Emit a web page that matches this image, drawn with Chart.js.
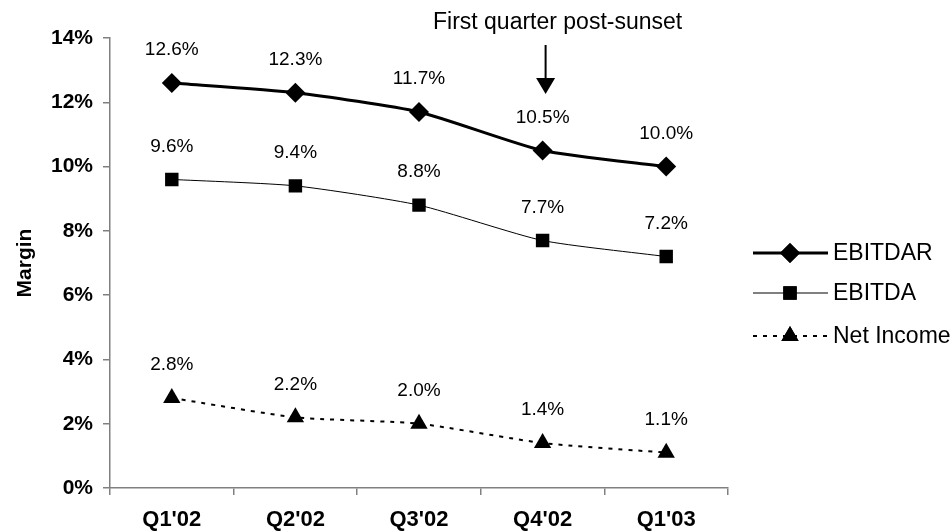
<!DOCTYPE html>
<html>
<head>
<meta charset="utf-8">
<script src="https://cdn.jsdelivr.net/npm/chart.js@4/dist/chart.umd.min.js"></script>
<style>
  html, body { margin: 0; padding: 0; background: #fff; }
  #wrap { width: 952px; height: 531px; }
</style>
</head>
<body>
<div id="wrap"><canvas id="marginChart" width="952" height="531"></canvas></div>
<script>
const quarters = ["Q1'02", "Q2'02", "Q3'02", "Q4'02", "Q1'03"];
const ebitdar = [12.6, 12.3, 11.7, 10.5, 10.0];
const ebitda = [9.6, 9.4, 8.8, 7.7, 7.2];
const netIncome = [2.8, 2.2, 2.0, 1.4, 1.1];
const yTicks = [0, 2, 4, 6, 8, 10, 12, 14];
const noteText = "First quarter post-sunset";
const noteIndex = 3;

const FONT = "'Liberation Sans', Arial, sans-serif";
const axisGray = "#808080";

const series = [
  { label: "EBITDAR", data: ebitdar, width: 3, dash: [], style: "rectRot", radius: 10 },
  { label: "EBITDA", data: ebitda, width: 1, dash: [], style: "rect", radius: 9.5 },
  { label: "Net Income", data: netIncome, width: 2, dash: [4, 6], style: "triangle", radius: 10 },
];

// value labels, arrow note and the custom legend
const extras = {
  id: "extras",
  afterDatasetsDraw(chart) {
    const ctx = chart.ctx;
    const x = chart.scales.x;
    ctx.save();
    ctx.fillStyle = "#000";
    ctx.font = "19px " + FONT;
    ctx.textAlign = "center";
    ctx.textBaseline = "middle";
    chart.data.datasets.forEach((ds, i) => {
      chart.getDatasetMeta(i).data.forEach((pt, j) => {
        ctx.fillText(ds.data[j].toFixed(1) + "%", pt.x, pt.y - 33);
      });
    });

    // note with arrow
    const ax = x.getPixelForValue(noteIndex) + 3;
    ctx.font = "23px " + FONT;
    ctx.fillText(noteText, ax + 12, 23);
    ctx.strokeStyle = "#000";
    ctx.lineWidth = 2;
    ctx.beginPath();
    ctx.moveTo(ax, 45);
    ctx.lineTo(ax, 80);
    ctx.stroke();
    ctx.beginPath();
    ctx.moveTo(ax - 9.5, 78);
    ctx.lineTo(ax + 9.5, 78);
    ctx.lineTo(ax, 94);
    ctx.closePath();
    ctx.fill();

    // legend
    const rows = [253, 293, 336];
    series.forEach((s, i) => {
      const y = rows[i];
      ctx.strokeStyle = "#000";
      ctx.lineWidth = s.width;
      ctx.setLineDash(s.dash);
      ctx.beginPath();
      ctx.moveTo(753, y);
      ctx.lineTo(828, y);
      ctx.stroke();
      ctx.setLineDash([]);
      Chart.helpers.drawPoint(ctx, {
        pointStyle: s.style, radius: s.radius, rotation: 0, borderWidth: 0
      }, 790, y);
      ctx.fill();
      ctx.textAlign = "left";
      ctx.font = "23px " + FONT;
      ctx.fillText(s.label, 833, y + 1);
    });
    ctx.restore();
  }
};

const ctx = document.getElementById("marginChart").getContext("2d");
const marginChart = new Chart(ctx, {
  type: "line",
  data: {
    labels: quarters,
    datasets: series.map(s => ({
      label: s.label,
      data: s.data,
      borderColor: "#000",
      backgroundColor: "#000",
      borderWidth: s.width,
      borderDash: s.dash,
      pointStyle: s.style,
      pointRadius: s.radius,
      pointBorderWidth: 0,
      pointBackgroundColor: "#000",
      tension: 0.2,
      fill: false,
    })),
  },
  plugins: [extras],
  options: {
    responsive: false,
    animation: false,
    devicePixelRatio: 1,
    layout: { padding: { left: 0, right: 224, top: 38, bottom: 0 } },
    plugins: { legend: { display: false }, tooltip: { enabled: false } },
    scales: {
      x: {
        type: "category",
        offset: true,
        afterFit: (s) => { s.height = 43; },
        border: { color: axisGray, width: 1.5 },
        grid: { offset: true, drawOnChartArea: false, tickLength: 7, color: axisGray, lineWidth: 1.5 },
        ticks: { color: "#000", padding: 12, maxRotation: 0, font: { family: FONT, size: 22, weight: "bold" } },
      },
      y: {
        min: yTicks[0],
        max: yTicks[yTicks.length - 1],
        afterFit: (s) => { s.width = 110; },
        afterBuildTicks: (s) => { s.ticks = yTicks.map(v => ({ value: v })); },
        border: { color: axisGray, width: 1.5 },
        grid: { drawOnChartArea: false, tickLength: 7, color: axisGray, lineWidth: 1.5 },
        ticks: { color: "#000", padding: 10, callback: (v) => v + "%", font: { family: FONT, size: 21, weight: "bold" } },
        title: { display: true, text: "Margin", color: "#000", padding: { top: 13, bottom: 0 }, font: { family: FONT, size: 21, weight: "bold" } },
      },
    },
  },
});
</script>
</body>
</html>
